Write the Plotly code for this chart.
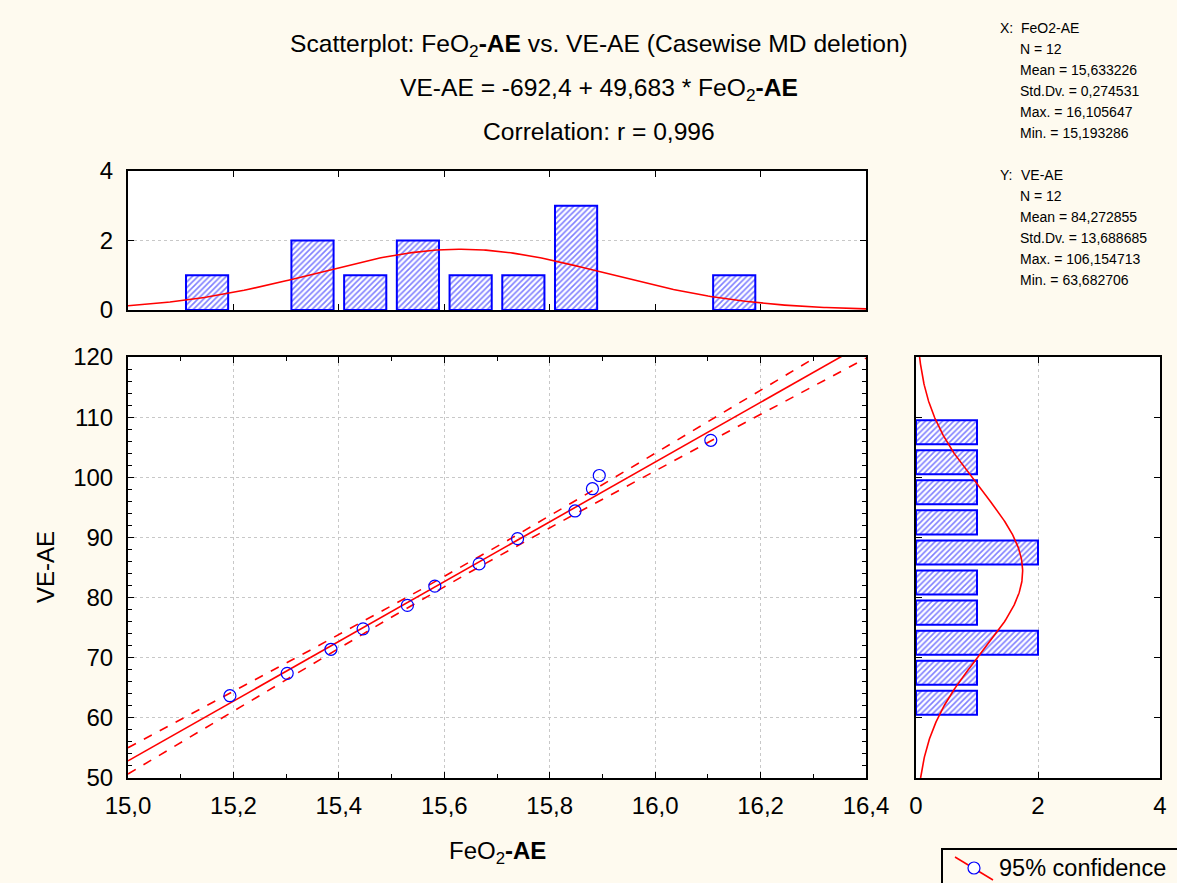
import numpy as np
import plotly.graph_objects as go

# ---------------- data ----------------
fe_ae = [15.1933, 15.302, 15.385, 15.446, 15.530, 15.582, 15.666, 15.739,
         15.848, 15.881, 15.894, 16.1056]
ve_ae = [63.68, 67.4, 71.4, 74.8, 78.7, 81.9, 85.6, 89.8, 94.4, 98.1, 100.3, 106.15]

intercept = -692.4
slope = 49.683

x_stats = ["N = 12", "Mean = 15,633226", "Std.Dv. = 0,274531",
           "Max. = 16,105647", "Min. = 15,193286"]
y_stats = ["N = 12", "Mean = 84,272855", "Std.Dv. = 13,688685",
           "Max. = 106,154713", "Min. = 63,682706"]

x_ticks = [15.0, 15.2, 15.4, 15.6, 15.8, 16.0, 16.2, 16.4]
y_ticks = [50, 60, 70, 80, 90, 100, 110, 120]
# --------------------------------------------------------------

W, H = 1177, 883
def px(x):
    return x / W
def py(y):
    return 1 - y / H

BG = "#FEFAEF"
FONT = "Liberation Sans, Arial, sans-serif"
BLUE = "#0000FF"
RED = "#FF0000"

xv = np.array(fe_ae)
yv = np.array(ve_ae)
n = len(xv)
xm, ym = xv.mean(), yv.mean()
sdx, sdy = xv.std(ddof=1), yv.std(ddof=1)
sxx = ((xv - xm) ** 2).sum()
resid = yv - (intercept + slope * xv)
s = np.sqrt((resid ** 2).sum() / (n - 2))
tval = 2.228

xl = np.linspace(15.0, 16.4, 200)
yl = intercept + slope * xl
band = tval * s * np.sqrt(1 / n + (xl - xm) ** 2 / sxx)

fig = go.Figure()

# main scatter
fig.add_trace(go.Scatter(x=xl, y=yl + band, mode="lines",
                         line=dict(color=RED, width=1.6, dash="dash"),
                         xaxis="x", yaxis="y", showlegend=False))
fig.add_trace(go.Scatter(x=xl, y=yl - band, mode="lines",
                         line=dict(color=RED, width=1.6, dash="dash"),
                         xaxis="x", yaxis="y", showlegend=False))
fig.add_trace(go.Scatter(x=xl, y=yl, mode="lines",
                         line=dict(color=RED, width=1.6),
                         xaxis="x", yaxis="y", showlegend=False))
fig.add_trace(go.Scatter(x=fe_ae, y=ve_ae, mode="markers",
                         marker=dict(symbol="circle-open", size=12,
                                     color=BLUE, line=dict(width=1.2, color=BLUE)),
                         xaxis="x", yaxis="y", showlegend=False))

pattern = dict(shape="/", fgcolor=BLUE, bgcolor="white", size=4, solidity=0.4)

# top histogram
fig.add_trace(go.Histogram(x=fe_ae, xbins=dict(start=15.0, end=16.4, size=0.1),
                           marker=dict(color="white", pattern=pattern,
                                       line=dict(color=BLUE, width=2)),
                           xaxis="x2", yaxis="y2", showlegend=False))
xc = np.linspace(15.0, 16.4, 300)
yc = n * 0.1 * np.exp(-0.5 * ((xc - xm) / sdx) ** 2) / (sdx * np.sqrt(2 * np.pi))
fig.add_trace(go.Scatter(x=xc, y=yc, mode="lines", line=dict(color=RED, width=1.6),
                         xaxis="x2", yaxis="y2", showlegend=False))

# right histogram
fig.add_trace(go.Histogram(y=ve_ae, ybins=dict(start=50, end=120, size=5),
                           orientation="h",
                           marker=dict(color="white", pattern=pattern,
                                       line=dict(color=BLUE, width=2)),
                           xaxis="x3", yaxis="y3", showlegend=False))
yr = np.linspace(50, 120, 300)
xr = n * 5 * np.exp(-0.5 * ((yr - ym) / sdy) ** 2) / (sdy * np.sqrt(2 * np.pi))
fig.add_trace(go.Scatter(x=xr, y=yr, mode="lines", line=dict(color=RED, width=1.6),
                         xaxis="x3", yaxis="y3", showlegend=False))

tickfont = dict(family=FONT, size=24, color="black")
axis_common = dict(showline=True, linecolor="black", linewidth=2, mirror="ticks",
                   ticks="inside", tickcolor="black", ticklen=6, tickwidth=1,
                   zeroline=False, gridcolor="#C8C8C8", griddash="dot", gridwidth=1,
                   tickfont=tickfont, automargin=False)

xd = [px(128), px(866)]
fig.update_layout(
    width=W, height=H, margin=dict(l=0, r=0, t=0, b=0, pad=0, autoexpand=False),
    paper_bgcolor=BG, plot_bgcolor="white",
    separators=", ", bargap=0.2,
    xaxis=dict(axis_common, domain=xd, range=[15.0, 16.4], tickvals=x_ticks,
               tickformat=".1f", anchor="y", ticklabelstandoff=5,
               minor=dict(dtick=0.1, ticks="inside", ticklen=4, tickcolor="black", showgrid=False)),
    yaxis=dict(axis_common, domain=[py(778), py(357)], range=[50, 120], tickvals=y_ticks,
               anchor="x", ticklabelstandoff=8,
               minor=dict(dtick=2, ticks="inside", ticklen=4, tickcolor="black", showgrid=False)),
    xaxis2=dict(axis_common, domain=xd, range=[15.0, 16.4], tickvals=x_ticks,
                showticklabels=False, anchor="y2", showgrid=False),
    yaxis2=dict(axis_common, domain=[py(310), py(171)], range=[0, 4], dtick=2,
                anchor="x2", ticklabelstandoff=8),
    xaxis3=dict(axis_common, domain=[px(916), px(1160)], range=[0, 4], dtick=2,
                anchor="y3", ticklabelstandoff=5),
    yaxis3=dict(axis_common, domain=[py(778), py(357)], range=[50, 120], tickvals=y_ticks,
                showticklabels=False, anchor="x3", showgrid=False),
)

ann = []
tf = FONT
ann.append(dict(x=px(599), y=py(45), text="Scatterplot: FeO<sub>2</sub><b>-AE</b> vs. VE-AE (Casewise MD deletion)",
                font=dict(family=tf, size=24.6, color="black")))
ann.append(dict(x=px(599), y=py(89), text="VE-AE = -692,4 + 49,683 * FeO<sub>2</sub><b>-AE</b>",
                font=dict(family=tf, size=24.6, color="black")))
ann.append(dict(x=px(599), y=py(131), text="Correlation: r = 0,996",
                font=dict(family=tf, size=24.6, color="black")))
ann.append(dict(x=px(45), y=py(567), text="VE-AE", textangle=-90,
                font=dict(family=FONT, size=24, color="black")))
ann.append(dict(x=px(497), y=py(852), text="FeO<sub>2</sub><b>-AE</b>",
                font=dict(family=tf, size=24, color="black")))

sf = dict(family=FONT, size=14, color="black")
ann.append(dict(x=px(998), y=py(28), text="X:", font=sf, xanchor="left"))
ann.append(dict(x=px(1019), y=py(28), text="FeO2-AE", font=sf, xanchor="left"))
for i, t in enumerate(x_stats):
    ann.append(dict(x=px(1018), y=py(49 + i * 21), text=t, font=sf, xanchor="left"))
ann.append(dict(x=px(998), y=py(175), text="Y:", font=sf, xanchor="left"))
ann.append(dict(x=px(1019), y=py(175), text="VE-AE", font=sf, xanchor="left"))
for i, t in enumerate(y_stats):
    ann.append(dict(x=px(1018), y=py(196 + i * 21), text=t, font=sf, xanchor="left"))

ann.append(dict(x=px(997), y=py(868), text="95% confidence", xanchor="left",
                font=dict(family=FONT, size=23.5, color="black")))

for a in ann:
    a.setdefault("xanchor", "center")
    a.update(xref="paper", yref="paper", showarrow=False, yanchor="middle")
fig.update_layout(annotations=ann)

fig.update_layout(shapes=[
    dict(type="rect", xref="paper", yref="paper", x0=px(942), x1=px(1200),
         y0=py(849), y1=py(900), line=dict(color="black", width=2), fillcolor=BG, layer="below"),
    dict(type="line", xref="paper", yref="paper", x0=px(955), y0=py(857),
         x1=px(993), y1=py(880), line=dict(color=RED, width=1.5)),
    dict(type="circle", xref="paper", yref="paper", x0=px(968), x1=px(980),
         y0=py(862), y1=py(874), line=dict(color=BLUE, width=1.2), fillcolor="white"),
])

fig.write_html("out.html", config={"displayModeBar": False},
               post_script="document.body.style.margin='0';document.body.style.overflow='hidden';")
